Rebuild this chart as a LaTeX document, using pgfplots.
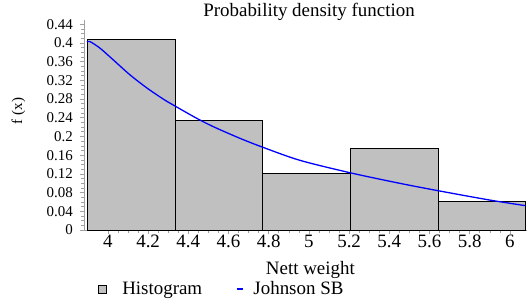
\documentclass[border=0pt]{standalone}
\usepackage{fontspec}
\setmainfont{Liberation Serif}
\usepackage{pgfplots}
\pgfplotsset{compat=1.18}
\definecolor{barfill}{HTML}{C0C0C0}
\definecolor{axgray}{HTML}{A0A0A0}
\newcommand{\fbig}{\fontsize{19}{21}\selectfont}
\newcommand{\fmid}{\fontsize{15}{17}\selectfont}
\begin{document}
\begin{tikzpicture}
\begin{axis}[
  scale only axis, width=443bp, height=210bp,
  xmin=3.881, xmax=6.085, ymin=0, ymax=0.449,
  axis x line*=bottom, axis y line*=left,
  axis line style={axgray, line width=0.8bp},
  tick align=outside,
  xtick={4,4.2,4.4,4.6,4.8,5,5.2,5.4,5.6,5.8,6},
  ytick={0,0.04,0.08,0.12,0.16,0.2,0.24,0.28,0.32,0.36,0.4,0.44},
  minor x tick num=3, minor y tick num=3,
  major tick length=4bp, minor tick length=2.5bp,
  tick style={axgray, line width=0.6bp},
  scaled y ticks=false, scaled x ticks=false,
  /pgf/number format/assume math mode=true,
  xticklabel={\pgfmathprintnumber[assume math mode=true]{\tick}},
  yticklabel={\pgfmathprintnumber[fixed,precision=2,assume math mode=true]{\tick}},
  xticklabel style={font=\fbig, inner sep=1bp},
  yticklabel style={font=\fmid, inner sep=2bp, xshift=-5bp},
  title={Probability density function},
  title style={at={(axis description cs:0.508,0.988)}, anchor=base, font=\fbig, inner sep=0pt},
  xlabel={Nett weight},
  xlabel style={at={(axis description cs:0.511,-0.214)}, anchor=base, font=\fbig, inner sep=0pt},
  ylabel={f (x)},
  ylabel style={at={(axis description cs:-0.148,0.567)}, anchor=center, font=\fmid, inner sep=0pt},
  legend columns=2,
  legend cell align=left,
  legend style={at={(axis description cs:0.0316,-0.281)}, anchor=west, draw=none, fill=none, inner sep=0pt, font=\fbig,
    /tikz/every odd column/.append style={column sep=8bp},
    /tikz/every even column/.append style={column sep=32bp}},
]
\addplot[ybar interval, fill=barfill, draw=black, line width=1bp,
  legend image code/.code={\draw[fill=barfill, draw=black, line width=0.8bp] (0bp,-4bp) rectangle (8bp,4bp); \path[draw=none, fill=none] (0bp,0bp) -- (13.7bp,0bp);}]
  coordinates {(3.897,0.408) (4.334,0.235) (4.770,0.120) (5.207,0.175) (5.643,0.060) (6.080,0.060)};
\addlegendentry{Histogram}
\addplot[blue, line width=1.3bp, smooth,
  legend image code/.code={\draw[blue, line width=1.3bp] (0bp,0bp) -- (6bp,0bp);}]
  coordinates {
  (3.896,0.402) (3.910,0.403) (3.960,0.389) (4.026,0.364) (4.109,0.332)
  (4.193,0.304) (4.275,0.280) (4.330,0.266) (4.441,0.239) (4.524,0.221)
  (4.657,0.196) (4.770,0.177) (4.955,0.149) (5.209,0.122) (5.450,0.100)
  (5.643,0.084) (5.900,0.064) (6.078,0.052)};
\addlegendentry{Johnson SB}
\end{axis}
\pgfresetboundingbox
\path[use as bounding box] ([shift={(-84bp,-75bp)}]current axis.south west) rectangle ([shift={(0bp,20bp)}]current axis.north east);
\end{tikzpicture}
\end{document}
